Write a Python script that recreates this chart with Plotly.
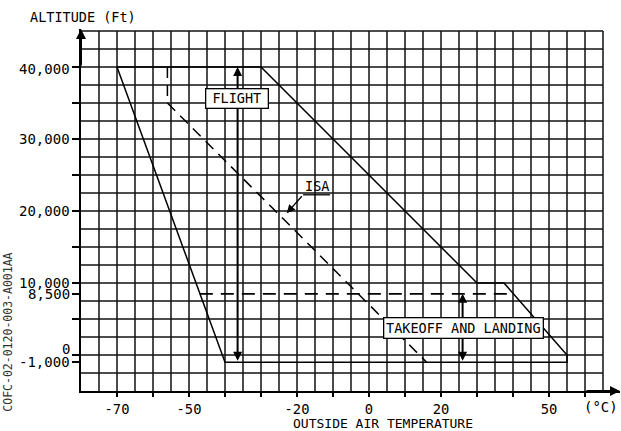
import plotly.graph_objects as go

# ---------------- data ----------------
# operating envelope (solid outline): temperature (deg C) / altitude (ft)
env_temp = [-70, -30, 30, 37.5, 55, 55, -40, -70]
env_alt = [40000, 40000, 10000, 10000, 0, -1000, -1000, 40000]

# ISA line (dashed)
isa_temp = [-56, -56, 16]
isa_alt = [40000, 35000, -1000]

# takeoff & landing ceiling (dashed)
to_temp = [-47, 40]
to_alt = [8500, 8500]

# range arrows
flight_arrow_temp = -36.5
flight_arrow_alt = [40000, -1000]
to_arrow_temp = 26
to_arrow_alt = [8500, -1000]

# grid and ticks
grid_temps = list(range(-75, 70, 5))
grid_alts = list(range(-2500, 47500, 2500))
x_tick_vals = list(range(-70, 70, 10))
x_tick_text = {-70: "-70", -50: "-50", -20: "-20", 0: "0", 20: "20", 50: "50"}
y_tick_vals = [-1000, 0, 5000, 8500, 10000, 15000, 20000, 25000, 30000, 35000, 40000]
y_label_vals = [40000, 30000, 20000, 10000, 8500, 0, -1000]
y_label_text = ["40,000", "30,000", "20,000", "10,000", "8,500", "0", "-1,000"]

# label anchors (data coordinates)
flight_label = (-36.75, 35650)
to_label = (26.2, 3750)
isa_label = (-14.5, 23450)
isa_leader = [(-22.85, 19680), (-18.3, 22250), (-10.8, 22250)]

FONT = "DejaVu Sans Mono"
W, H = 621, 431
ML, MR, MT, MB = 81, 1, 29, 40
PX_PER_C = 3.6
PX_PER_FT = 0.0072
x_range = [-80, -80 + (W - ML - MR) / PX_PER_C]
y_range = [-5000, -5000 + (H - MT - MB) / PX_PER_FT]

fig = go.Figure()

# grid as shapes
shapes = []
for t in grid_temps:
    shapes.append(dict(type="line", xref="x", yref="y", x0=t, x1=t, y0=-5000, y1=45000,
                       line=dict(color="#111", width=1.5), layer="below"))
for a in grid_alts:
    shapes.append(dict(type="line", xref="x", yref="y", x0=-80, x1=65, y0=a, y1=a,
                       line=dict(color="#111", width=1.5), layer="below"))
# ISA underline
shapes.append(dict(type="line", xref="x", yref="y",
                   x0=isa_leader[1][0], x1=isa_leader[2][0],
                   y0=isa_leader[1][1], y1=isa_leader[2][1],
                   line=dict(color="black", width=1.3)))

fig.add_trace(go.Scatter(x=env_temp, y=env_alt, mode="lines",
                         line=dict(color="black", width=1.5), hoverinfo="skip"))
fig.add_trace(go.Scatter(x=isa_temp, y=isa_alt, mode="lines",
                         line=dict(color="black", width=1.5, dash="11px,7px"), hoverinfo="skip"))
fig.add_trace(go.Scatter(x=to_temp, y=to_alt, mode="lines",
                         line=dict(color="black", width=1.8, dash="13px,8px"), hoverinfo="skip"))

ann = []
# double arrows
for t, alts in [(flight_arrow_temp, flight_arrow_alt), (to_arrow_temp, to_arrow_alt)]:
    ann.append(dict(x=t, y=alts[0], ax=t, ay=alts[1], xref="x", yref="y", axref="x", ayref="y",
                    text="", showarrow=True, arrowhead=2, startarrowhead=2, arrowside="end+start",
                    arrowwidth=2, arrowsize=0.9, startarrowsize=0.9, arrowcolor="black"))
# axis arrows
ann.append(dict(x=-80, y=y_range[1], ax=-80, ay=40000, xref="x", yref="y", axref="x", ayref="y",
                text="", showarrow=True, arrowhead=2, arrowwidth=2, arrowsize=1, arrowcolor="black"))
ann.append(dict(x=x_range[1], y=-5000, ax=60, ay=-5000, xref="x", yref="y", axref="x", ayref="y",
                text="", showarrow=True, arrowhead=2, arrowwidth=2, arrowsize=1, arrowcolor="black"))
# ISA leader
ann.append(dict(x=isa_leader[0][0], y=isa_leader[0][1], ax=isa_leader[1][0], ay=isa_leader[1][1],
                xref="x", yref="y", axref="x", ayref="y", text="", showarrow=True,
                arrowhead=2, arrowwidth=1.3, arrowsize=1.3, arrowcolor="black"))

# labelled boxes
ann.append(dict(x=flight_label[0], y=flight_label[1], xref="x", yref="y", text="FLIGHT",
                showarrow=False, font=dict(family=FONT, size=13.5, color="black"),
                bgcolor="white", bordercolor="black", borderwidth=1.3, borderpad=1,
                width=59, height=16))
ann.append(dict(x=to_label[0], y=to_label[1], xref="x", yref="y", text="TAKEOFF AND LANDING",
                showarrow=False, font=dict(family=FONT, size=13.5, color="black"),
                bgcolor="white", bordercolor="black", borderwidth=1.3, borderpad=1,
                width=156, height=17))
ann.append(dict(x=isa_label[0], y=isa_label[1], xref="x", yref="y", text="ISA",
                showarrow=False, font=dict(family=FONT, size=13.5, color="black")))

# y tick labels
for v, txt in zip(y_label_vals, y_label_text):
    ann.append(dict(x=-80, y=v, xref="x", yref="y", text=txt, showarrow=False,
                    xanchor="right", yanchor="middle", xshift=-9,
                    yshift=6 if v == 0 else (-2 if v == 40000 else 0),
                    font=dict(family=FONT, size=14, color="black")))

# titles
ann.append(dict(x=-80, y=1, xref="x", yref="paper", text="ALTITUDE (Ft)", showarrow=False,
                xanchor="left", yanchor="middle", xshift=-53, yshift=12,
                font=dict(family=FONT, size=13.5, color="black")))
ann.append(dict(x=4, y=0, xref="x", yref="paper", text="OUTSIDE AIR TEMPERATURE", showarrow=False,
                xanchor="center", yanchor="middle", yshift=-32.5,
                font=dict(family=FONT, size=13, color="black")))
ann.append(dict(x=64.5, y=0, xref="x", yref="paper", text="(°C)", showarrow=False,
                xanchor="center", yanchor="middle", yshift=-16,
                font=dict(family=FONT, size=14, color="black")))
ann.append(dict(x=-0.1354, y=3100, xref="paper", yref="y", text="COFC-02-0120-003-A001AA",
                showarrow=False, textangle=-90, xanchor="center", yanchor="middle",
                font=dict(family=FONT, size=11.5, color="#333")))

fig.update_layout(
    width=W, height=H,
    margin=dict(l=ML, r=MR, t=MT, b=MB, pad=0),
    plot_bgcolor="white", paper_bgcolor="white",
    showlegend=False,
    shapes=shapes,
    annotations=ann,
    xaxis=dict(range=x_range, showgrid=False, zeroline=False, showline=True,
               linecolor="black", linewidth=2, ticks="outside", ticklen=4, tickwidth=1.5,
               tickcolor="black", tickvals=x_tick_vals,
               ticktext=[x_tick_text.get(v, "") for v in x_tick_vals],
               tickfont=dict(family=FONT, size=13.8, color="black"), fixedrange=True),
    yaxis=dict(range=y_range, showgrid=False, zeroline=False, showline=True,
               linecolor="black", linewidth=2, ticks="outside", ticklen=7, tickwidth=1.5,
               tickcolor="black", tickvals=y_tick_vals, ticktext=[""] * len(y_tick_vals),
               fixedrange=True),
)

fig.write_html(
    "out.html",
    config={"displayModeBar": False, "staticPlot": True},
    post_script="document.body.style.margin='0';document.body.style.overflow='hidden';",
)
